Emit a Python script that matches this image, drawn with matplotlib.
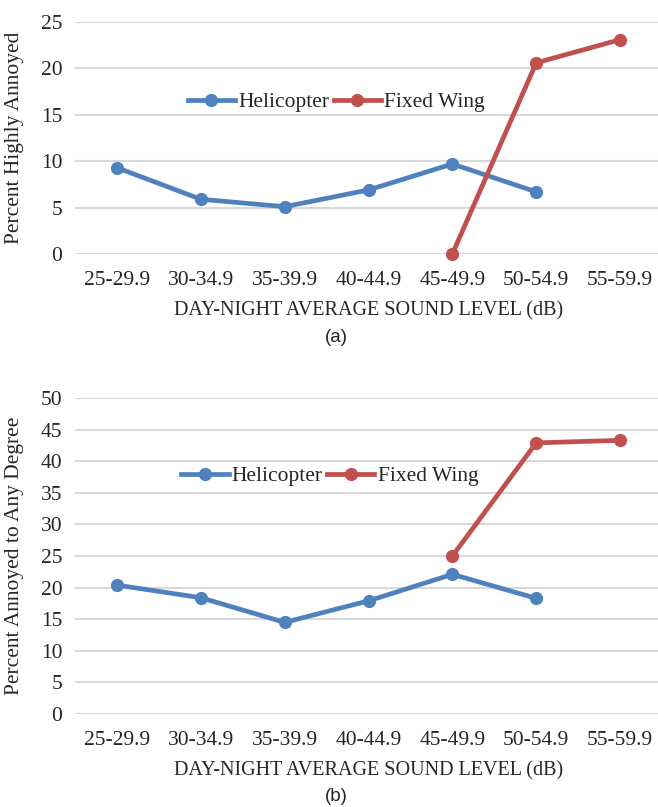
import matplotlib
matplotlib.use('Agg')
import matplotlib.pyplot as plt

# categories (day-night average sound level bins)
levels = ['25-29.9', '30-34.9', '35-39.9', '40-44.9', '45-49.9', '50-54.9', '55-59.9']

# (a) percent highly annoyed
heli_high = [9.3, 5.9, 5.1, 6.9, 9.7, 6.7]
fixed_high = [0.0, 20.6, 23.1]

# (b) percent annoyed to any degree
heli_any = [20.4, 18.4, 14.5, 17.9, 22.1, 18.3]
fixed_any = [25.0, 42.9, 43.3]

blue = '#4F81BD'
red = '#C0504D'
serif = 'Liberation Serif'

W, H = 658, 807
fig = plt.figure(figsize=(W / 100, H / 100), dpi=100)


def make_panel(rect, heli, fixed, ymax, ylabel, leg_xy, tag):
	ax = fig.add_axes(rect)
	x_heli = list(range(len(heli)))
	x_fixed = list(range(4, 4 + len(fixed)))
	ax.plot(x_heli, heli, color=blue, lw=3.4, marker='o', ms=8.5,
		label='Helicopter', clip_on=False, zorder=3)
	ax.plot(x_fixed, fixed, color=red, lw=3.4, marker='o', ms=8.5,
		label='Fixed Wing', clip_on=False, zorder=3)
	ax.set_xlim(-0.5, 6.5)
	ax.set_ylim(0, ymax)
	ax.set_yticks(range(0, ymax + 1, 5))
	ax.set_xticks(range(len(levels)))
	ax.set_xticklabels(levels)
	ax.grid(axis='y', color='#D9D9D9', lw=1.5)
	ax.set_axisbelow(True)
	for s in ax.spines.values():
		s.set_visible(False)
	ax.tick_params(length=0, labelsize=15.5, colors='#262626')
	ax.tick_params(axis='x', pad=12)
	ax.tick_params(axis='y', pad=9)
	for t in ax.get_xticklabels() + ax.get_yticklabels():
		t.set_family(serif)
	ax.set_xlabel('DAY-NIGHT AVERAGE SOUND LEVEL (dB)', family=serif,
		fontsize=14.5, color='#262626', labelpad=8)
	ax.set_ylabel(ylabel, family=serif, fontsize=15.5, color='#262626', labelpad=12)
	leg = ax.legend(loc='center', bbox_to_anchor=leg_xy, ncol=2, frameon=False,
		prop={'family': serif, 'size': 15.5}, handlelength=2.2,
		handletextpad=0.15, columnspacing=0.2, borderaxespad=0)
	for t in leg.get_texts():
		t.set_color('#262626')
	ax.text(0.445, tag[1], tag[0], transform=ax.transAxes, ha='center',
		va='center', family='Liberation Sans', fontsize=13.5, color='#262626')
	return ax


def rect_px(left, top, right, bottom):
	return [left / W, 1 - bottom / H, (right - left) / W, (bottom - top) / H]


make_panel(rect_px(75, 22, 662, 254), heli_high, fixed_high, 25,
	'Percent Highly Annoyed', (0.445, 0.655), ('(a)', -0.36))
make_panel(rect_px(75, 398, 662, 714), heli_any, fixed_any, 50,
	'Percent Annoyed to Any Degree', (0.434, 0.753), ('(b)', -0.26))

fig.savefig('out.png', dpi=100)
